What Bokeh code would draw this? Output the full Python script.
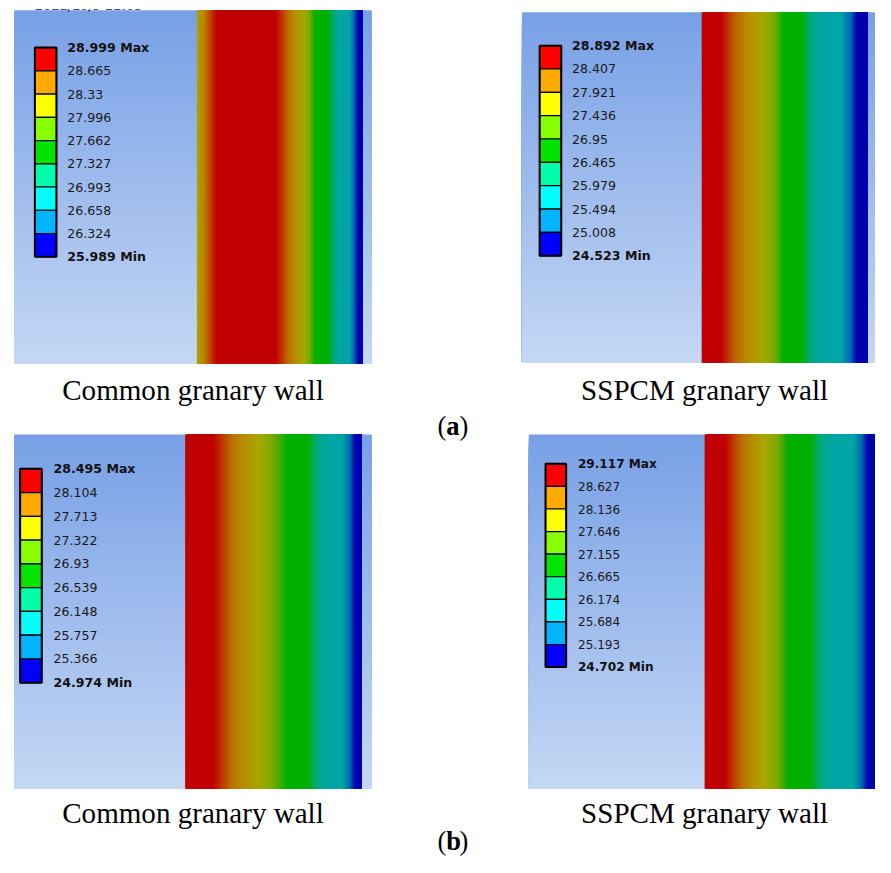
from bokeh.plotting import figure
from bokeh.models import Range1d, ColumnDataSource
from bokeh.embed import file_html
from bokeh.resources import INLINE
from bokeh.core.properties import value

# ---------------- data ----------------
labels_a_common = ["28.999", "28.665", "28.33", "27.996", "27.662", "27.327", "26.993", "26.658", "26.324", "25.989"]
labels_a_sspcm = ["28.892", "28.407", "27.921", "27.436", "26.95", "26.465", "25.979", "25.494", "25.008", "24.523"]
labels_b_common = ["28.495", "28.104", "27.713", "27.322", "26.93", "26.539", "26.148", "25.757", "25.366", "24.974"]
labels_b_sspcm = ["29.117", "28.627", "28.136", "27.646", "27.155", "26.665", "26.174", "25.684", "25.193", "24.702"]
band_colors = ["#ff0000", "#ffaa00", "#ffff00", "#88ff00", "#00e400", "#00ffaa", "#00ffff", "#00b4ff", "#0000ff"]
captions = ["Common granary wall", "SSPCM granary wall"]
subfigs = ["a", "b"]
timestamp = "2022/10/9 11:03"

# ---------------- styles / layout ----------------
R, RO, OB, OC, OL, YG = "#c00000", "#c03a00", "#b87000", "#b88e00", "#a8a800", "#78aa00"
G, TG, T, BT, DB = "#00b000", "#00a880", "#00a6a6", "#0068b0", "#0000b0"
BG_TOP, BG_BOT = "#78a0e6", "#c5d7f4"

REF_W, REF_H = 891, 873
W, H = 875, 857
K = W / REF_W  # font scale


def fs(px):
    return "%.2fpx" % (px * K)


panels = [
    dict(bg=(14, 378, 10, 370), wall=(200, 369),
         stops=[(200, "#b0a000"), (207, "#b88800"), (213, "#c04800"), (220, R), (280, R), (287, RO),
                (293, OB), (300, OC), (308, OL), (315, YG), (320, G), (333, G), (340, TG), (346, T),
                (355, T), (360, BT), (364, DB), (369, DB)],
         bar=(35, 57, 48, 261), lx=68, labels=labels_a_common, fs=12.8),
    dict(bg=(531, 891, 12, 369), wall=(714, 883),
         stops=[(714, R), (733, R), (742, RO), (750, OB), (762, OC), (775, OL), (788, YG), (797, G),
                (815, G), (825, TG), (838, T), (855, T), (866, BT), (872, DB), (883, DB)],
         bar=(549, 571, 46, 260), lx=582, labels=labels_a_sspcm, fs=12.8),
    dict(bg=(14, 378, 442, 803), wall=(188, 368),
         stops=[(188, R), (216, R), (226, RO), (235, OB), (248, OC), (263, OL), (277, YG), (292, G),
                (313, G), (322, TG), (335, T), (348, T), (356, BT), (361, DB), (368, DB)],
         bar=(20, 42, 477, 695), lx=54, labels=labels_b_common, fs=12.8),
    dict(bg=(538, 891, 442, 803), wall=(717, 891),
         stops=[(717, R), (738, R), (746, RO), (755, OB), (766, OC), (778, OL), (792, YG), (802, G),
                (825, G), (835, TG), (848, T), (868, T), (877, BT), (883, DB), (891, DB)],
         bar=(555, 576, 472, 679), lx=588, labels=labels_b_sspcm, fs=12.3),
]


def h2rgb(h):
    h = h.lstrip("#")
    return tuple(int(h[i:i + 2], 16) for i in (0, 2, 4))


def mix(c1, c2, t):
    a, b = h2rgb(c1), h2rgb(c2)
    return "#%02x%02x%02x" % tuple(int(round(a[i] + (b[i] - a[i]) * t)) for i in range(3))


def stop_color(stops, x):
    if x <= stops[0][0]:
        return stops[0][1]
    for (x0, c0), (x1, c1) in zip(stops[:-1], stops[1:]):
        if x0 <= x <= x1:
            return mix(c0, c1, (x - x0) / max(x1 - x0, 1e-9))
    return stops[-1][1]


p = figure(width=W, height=H, x_range=Range1d(0, REF_W), y_range=Range1d(REF_H, 0),
           output_backend="svg", toolbar_location=None, min_border=0,
           x_axis_location=None, y_axis_location=None)
p.grid.visible = False
p.outline_line_color = None
p.background_fill_color = "white"
p.border_fill_color = "white"

# gradients: every strip runs to the far edge, drawn in order, so no seams appear
bg = dict(left=[], right=[], top=[], bottom=[], color=[])
wall = dict(left=[], right=[], top=[], bottom=[], color=[])
for pn in panels:
    x0, x1, y0, y1 = pn["bg"]
    for y in range(y0, y1, 2):
        t = (y + 1 - y0) / (y1 - y0)
        bg["left"].append(x0); bg["right"].append(x1)
        bg["top"].append(y); bg["bottom"].append(y1)
        bg["color"].append(mix(BG_TOP, BG_BOT, t))
    wx0, wx1 = pn["wall"]
    for x in range(wx0, wx1):
        wall["left"].append(x); wall["right"].append(wx1)
        wall["top"].append(y0); wall["bottom"].append(y1)
        wall["color"].append(stop_color(pn["stops"], x + 0.5))

p.quad(left="left", right="right", top="top", bottom="bottom", fill_color="color",
       line_color=None, source=ColumnDataSource(bg))
p.quad(left="left", right="right", top="top", bottom="bottom", fill_color="color",
       line_color=None, source=ColumnDataSource(wall))

# timestamp fragment at the very top of panel (a) left: only its lower edge shows in the reference
p.text(x=[35], y=[12.5], text=[timestamp], text_font=value("DejaVu Sans"), text_font_style="bold",
       text_font_size=fs(12), text_color="#111111", text_baseline="bottom", text_align="left")
p.quad(left=[0], right=[200], top=[0], bottom=[9.0], fill_color="white", line_color=None)

# legends
band = dict(left=[], right=[], top=[], bottom=[], color=[])
outer = dict(left=[], right=[], top=[], bottom=[])
for pn in panels:
    bx0, bx1, by0, by1 = pn["bar"]
    n = len(band_colors)
    step = (by1 - by0) / n
    for i, c in enumerate(band_colors):
        band["left"].append(bx0); band["right"].append(bx1)
        band["top"].append(by0 + i * step); band["bottom"].append(by0 + (i + 1) * step)
        band["color"].append(c)
    outer["left"].append(bx0); outer["right"].append(bx1)
    outer["top"].append(by0); outer["bottom"].append(by1)
    labs = pn["labels"]
    reg_y, reg_t, bold_y, bold_t = [], [], [], []
    for i, lab in enumerate(labs):
        y = by0 + i * step
        if i == 0:
            bold_y.append(y); bold_t.append(lab + " Max")
        elif i == len(labs) - 1:
            bold_y.append(y); bold_t.append(lab + " Min")
        else:
            reg_y.append(y); reg_t.append(lab)
    p.text(x=[pn["lx"]] * len(reg_y), y=reg_y, text=reg_t, text_font=value("DejaVu Sans"),
           text_font_size=fs(pn["fs"]), text_color="#1a1a1a", text_baseline="middle", text_align="left")
    p.text(x=[pn["lx"]] * len(bold_y), y=bold_y, text=bold_t, text_font=value("DejaVu Sans"),
           text_font_style="bold", text_font_size=fs(pn["fs"]), text_color="#111111",
           text_baseline="middle", text_align="left")

p.quad(left="left", right="right", top="top", bottom="bottom", fill_color="color",
       line_color="black", line_width=1.2, source=ColumnDataSource(band))
p.quad(left="left", right="right", top="top", bottom="bottom", fill_color=None,
       line_color="black", line_width=2, source=ColumnDataSource(outer))

# captions
cap_x = [196, 717]
cap_base = [397, 828]
for yb in cap_base:
    p.text(x=cap_x, y=[yb, yb], text=captions, text_font=value("Liberation Serif"),
           text_font_size=fs(29.6), text_color="black", text_baseline="alphabetic", text_align="center")

sub_base = [433, 856]
for s, yb in zip(subfigs, sub_base):
    p.text(x=[445], y=[yb], text=["("], text_font=value("Liberation Serif"), text_font_size=fs(27),
           text_color="black", text_baseline="alphabetic", text_align="left")
    p.text(x=[454], y=[yb], text=[s], text_font=value("Liberation Serif"), text_font_style="bold",
           text_font_size=fs(27), text_color="black", text_baseline="alphabetic", text_align="left")
    p.text(x=[467.5], y=[yb], text=[")"], text_font=value("Liberation Serif"), text_font_size=fs(27),
           text_color="black", text_baseline="alphabetic", text_align="left")

open("out.html", "w").write(file_html(p, INLINE))
